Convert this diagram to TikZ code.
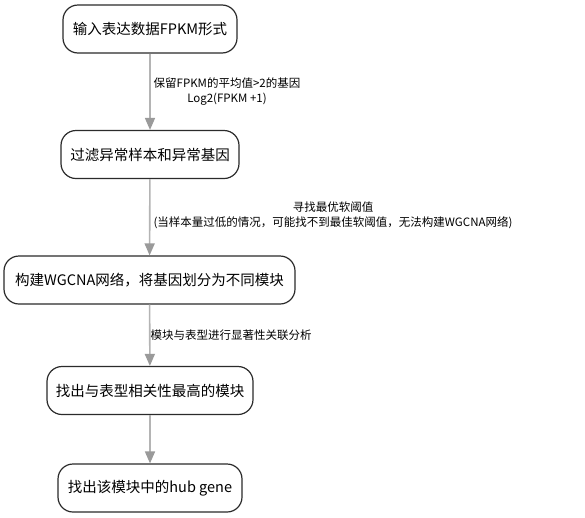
\documentclass[tikz,border=0pt]{standalone}
\usepackage{fontspec}
\usepackage{tikz}
\usetikzlibrary{arrows.meta}
\setmainfont{Noto Sans CJK SC}
\definecolor{bg}{HTML}{FFFFFF}
\definecolor{text}{HTML}{000000}
\definecolor{frame}{HTML}{2B2B2B}
\definecolor{link}{HTML}{B4B4B4}
\definecolor{tip}{HTML}{9A9A9A}
\tikzset{
  stage/.style={draw=frame, line width=1.2pt, rounded corners=15pt, fill=bg,
    text=text, font=\fontsize{14.5}{17}\selectfont, minimum height=48pt, inner sep=0pt},
  flow/.style={draw=link, line width=1.6pt,
    -{Triangle[width=10pt,length=12pt,color=tip]}},
  note/.style={text=text, font=\fontsize{11.5}{15}\selectfont, align=center, inner sep=0pt},
}
\begin{document}
\begin{tikzpicture}[x=1pt,y=-1pt]
  \useasboundingbox[fill=bg] (0,0) rectangle (585,517);
  \node[stage, minimum width=174pt] (input) at (150,29) {输入表达数据FPKM形式};
  \node[stage, minimum width=178pt] (filter) at (150,154.5) {过滤异常样本和异常基因};
  \node[stage, minimum width=291pt] (build) at (149.5,280) {构建WGCNA网络，将基因划分为不同模块};
  \node[stage, minimum width=206pt] (pick) at (150,390.5) {找出与表型相关性最高的模块};
  \node[stage, minimum width=184pt] (hub) at (150,488) {找出该模块中的hub gene};
  \draw[flow] (input) -- (filter);
  \draw[flow] (filter) -- (build);
  \draw[flow] (build) -- (pick);
  \draw[flow] (pick) -- (hub);
  \node[note] at (227,91.5) {保留FPKM的平均值>2的基因\\Log2(FPKM +1)};
  \node[note] at (333,215.5) {寻找最优软阈值\\(当样本量过低的情况，可能找不到最佳软阈值，无法构建WGCNA网络)};
  \node[note] at (231,335) {模块与表型进行显著性关联分析};
\end{tikzpicture}
\end{document}
